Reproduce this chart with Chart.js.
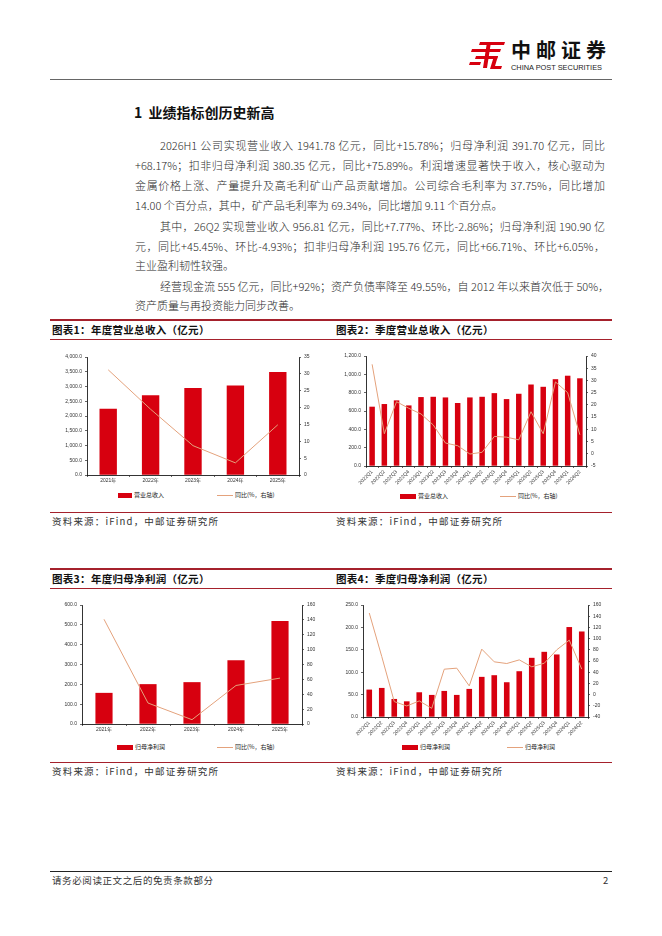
<!DOCTYPE html>
<html><head><meta charset="utf-8">
<script src="https://cdn.jsdelivr.net/npm/chart.js@4.4.1/dist/chart.umd.min.js"></script>
<style>
html,body{margin:0;padding:0;background:#fff;}
body{width:662px;height:936px;position:relative;overflow:hidden;font-family:"Noto Sans CJK SC","Liberation Sans",sans-serif;color:#222;}
.abs{position:absolute;}
.ln{position:absolute;white-space:nowrap;font-size:11px;line-height:16px;height:16px;color:#2a2a2a;font-weight:300;}
.jl{text-align:justify;text-align-last:justify;}
.hr{position:absolute;left:50px;width:562px;}
.ttl{position:absolute;font-size:10.5px;font-weight:bold;line-height:14px;color:#111;letter-spacing:0.3px;}
.src{position:absolute;font-size:9.5px;line-height:12px;color:#333;letter-spacing:1.2px;}
.leg{position:absolute;font-size:6px;line-height:8px;color:#222;white-space:nowrap;}
.sw{display:inline-block;vertical-align:middle;margin-right:2px;}
canvas{position:absolute;}
</style></head>
<body>
<!-- header logo -->
<svg class="abs" style="left:468px;top:40px" width="40" height="30" viewBox="0 0 40 30">
  <polygon points="12,2 37,2 36,5 11,5" fill="#d7000f"/>
  <polygon points="4,9 33,9 32,12 3,12" fill="#d7000f"/>
  <polygon points="8,16 30,16 29,19 7,19" fill="#d7000f"/>
  <polygon points="19,2 23,2 19,28 15,28" fill="#d7000f"/>
  <polygon points="26,16 30,16 27,26 34,26 33,29 22,29" fill="#d7000f"/>
  <polygon points="2,22 13,22 12,25 1,25" fill="#d7000f"/>
</svg>
<div class="abs" style="left:511px;top:38px;font-size:20px;font-weight:bold;letter-spacing:5px;line-height:24px;color:#111;">中邮证券</div>
<div class="abs" style="left:511px;top:63px;font-size:7.4px;line-height:9px;color:#222;font-family:'Liberation Sans',sans-serif;">CHINA POST SECURITIES</div>
<div class="hr" style="top:79px;height:1px;background:#666;"></div>

<!-- heading -->
<div class="abs" style="left:134px;top:102px;font-size:14px;font-weight:bold;line-height:20px;color:#111;">1&nbsp;&nbsp;业绩指标创历史新高</div>

<!-- body text -->
<div class="ln jl" style="left:160px;top:137px;width:445px;">2026H1 公司实现营业收入 1941.78 亿元，同比+15.78%；归母净利润 391.70 亿元，同比</div>
<div class="ln jl" style="left:135px;top:157px;width:470px;">+68.17%；扣非归母净利润 380.35 亿元，同比+75.89%。利润增速显著快于收入，核心驱动为</div>
<div class="ln jl" style="left:135px;top:177px;width:470px;">金属价格上涨、产量提升及高毛利矿山产品贡献增加。公司综合毛利率为 37.75%，同比增加</div>
<div class="ln" style="left:135px;top:197px;">14.00 个百分点，其中，矿产品毛利率为 69.34%，同比增加 9.11 个百分点。</div>
<div class="ln jl" style="left:160px;top:218px;width:445px;">其中，26Q2 实现营业收入 956.81 亿元，同比+7.77%、环比-2.86%；归母净利润 190.90 亿</div>
<div class="ln jl" style="left:135px;top:238px;width:470px;">元，同比+45.45%、环比-4.93%；扣非归母净利润 195.76 亿元，同比+66.71%、环比+6.05%，</div>
<div class="ln" style="left:135px;top:257px;">主业盈利韧性较强。</div>
<div class="ln jl" style="left:160px;top:278px;width:445px;">经营现金流 555 亿元，同比+92%；资产负债率降至 49.55%，自 2012 年以来首次低于 50%，</div>
<div class="ln" style="left:135px;top:297px;">资产质量与再投资能力同步改善。</div>

<!-- row 1 titles -->
<div class="hr" style="top:319px;height:2px;background:#a5212c;"></div>
<div class="ttl" style="left:52px;top:323px;">图表1：年度营业总收入（亿元）</div>
<div class="ttl" style="left:336px;top:323px;">图表2：季度营业总收入（亿元）</div>
<div class="hr" style="top:339px;height:1px;background:#a5212c;"></div>

<canvas id="c1" width="280" height="145" style="left:50px;top:345px;"></canvas>
<canvas id="c2" width="282" height="140" style="left:330px;top:345px;"></canvas>

<div class="leg" style="left:118px;top:491px;"><span class="sw" style="width:14px;height:5px;background:#d7000f;"></span>营业总收入</div>
<div class="leg" style="left:217px;top:491px;"><span class="sw" style="width:16px;height:1px;background:#e4a27c;"></span>同比(%，右轴)</div>
<div class="leg" style="left:400px;top:492px;"><span class="sw" style="width:16px;height:5px;background:#d7000f;"></span>营业总收入</div>
<div class="leg" style="left:500px;top:492px;"><span class="sw" style="width:16px;height:1px;background:#e4a27c;"></span>同比(%，右轴)</div>

<div class="hr" style="top:512px;height:1px;background:#a5212c;"></div>
<div class="src" style="left:52px;top:515px;">资料来源：iFind，中邮证券研究所</div>
<div class="src" style="left:336px;top:515px;">资料来源：iFind，中邮证券研究所</div>

<!-- row 2 titles -->
<div class="hr" style="top:568px;height:2px;background:#a5212c;"></div>
<div class="ttl" style="left:52px;top:572px;">图表3：年度归母净利润（亿元）</div>
<div class="ttl" style="left:336px;top:572px;">图表4：季度归母净利润（亿元）</div>
<div class="hr" style="top:588px;height:1px;background:#a5212c;"></div>

<canvas id="c3" width="280" height="140" style="left:50px;top:598px;"></canvas>
<canvas id="c4" width="282" height="142" style="left:330px;top:598px;"></canvas>

<div class="leg" style="left:117px;top:743px;"><span class="sw" style="width:16px;height:5px;background:#d7000f;"></span>归母净利润</div>
<div class="leg" style="left:217px;top:743px;"><span class="sw" style="width:16px;height:1px;background:#e4a27c;"></span>同比(%，右轴)</div>
<div class="leg" style="left:402px;top:743px;"><span class="sw" style="width:16px;height:5px;background:#d7000f;"></span>归母净利润</div>
<div class="leg" style="left:507px;top:743px;"><span class="sw" style="width:16px;height:1px;background:#e4a27c;"></span>归母净利润</div>

<div class="hr" style="top:762px;height:1px;background:#a5212c;"></div>
<div class="src" style="left:52px;top:765px;">资料来源：iFind，中邮证券研究所</div>
<div class="src" style="left:336px;top:765px;">资料来源：iFind，中邮证券研究所</div>

<!-- footer -->
<div class="hr" style="top:871px;height:1px;background:#222;"></div>
<div class="src" style="left:52px;top:874px;letter-spacing:0.6px;">请务必阅读正文之后的免责条款部分</div>
<div class="src" style="left:603px;top:874px;">2</div>

<script>
// ---------- data ----------
const yearLabels = ['2021年','2022年','2023年','2024年','2025年'];
const quarterLabels = ['2022Q1','2022Q2','2022Q3','2022Q4','2023Q1','2023Q2','2023Q3','2023Q4',
  '2024Q1','2024Q2','2024Q3','2024Q4','2025Q1','2025Q2','2025Q3','2025Q4','2026Q1','2026Q2'];

const annualRevenue = [2250, 2700, 2945, 3030, 3490];
const annualRevenueYoY = [31.2, 19.5, 8.7, 3.6, 14.9];

const quarterRevenue = [647, 676, 716, 661, 752, 755, 748, 687, 748, 755, 795, 730, 788, 889, 864, 947, 985, 956.81];
const quarterRevenueYoY = [36.6, 8.2, 21.3, 18.6, 16.3, 11.8, 4.4, 3.3, -0.1, 0.6, 7.1, 6.8, 5.7, 17.2, 8.2, 29.4, 25.0, 7.77];

const annualProfit = [157, 201, 211, 321, 519];
const annualProfitYoY = [140.8, 28.2, 5.8, 51.8, 61.7];

const quarterProfit = [61.2, 64.9, 40.3, 35.0, 55.2, 49.3, 58.2, 49.3, 62.7, 89.6, 93.3, 77.6, 102.2, 132.1, 145.5, 139.6, 200.8, 190.9];
const quarterProfitYoY = [145.7, 68.0, -12.5, -20.3, -11.3, -24.5, 45.4, 47.2, 15.5, 81.2, 58.5, 55.5, 62.0, 49.6, 56.0, 80.0, 97.3, 45.45];

// ---------- style ----------
const RED = '#d7000f';
const LINE = '#e4a27c';
const FONT = {family:"'Liberation Sans','Noto Sans CJK SC',sans-serif", size:5};

const fmtLeft = v => Number(v).toLocaleString('en-US',{minimumFractionDigits:1, maximumFractionDigits:1});
const fmtRight = v => String(v);

function build(id, labels, bars, line, cfg){
  new Chart(document.getElementById(id), {
    data:{labels, datasets:[
      {type:'line', label:'yoy', data:line, yAxisID:'y1', borderColor:LINE, borderWidth:1, pointRadius:0, tension:0, order:0},
      {type:'bar', label:'bar', data:bars, yAxisID:'y', backgroundColor:RED, barPercentage:cfg.bp, categoryPercentage:1, order:1}
    ]},
    options:{
      responsive:false, animation:false,
      layout:{padding:{top:cfg.pt, left:0, right:0, bottom:0}},
      plugins:{legend:{display:false}, tooltip:{enabled:false}},
      scales:{
        x:{offset:true,
           grid:{display:true, drawOnChartArea:false, offset:true, tickLength:2, color:'#000', lineWidth:0.6},
           border:{display:true, color:'#000', width:0.8},
           ticks:{font:FONT, color:'#333', maxRotation:cfg.rot, minRotation:cfg.rot, autoSkip:false, padding:1},
           afterFit:s=>{s.height=cfg.xh; s.paddingLeft=0; s.paddingRight=0;}},
        y:{position:'left', min:cfg.lmin, max:cfg.lmax,
           ticks:{stepSize:cfg.lstep, callback:fmtLeft, font:FONT, color:'#333', padding:3},
           grid:{display:true, drawOnChartArea:false, tickLength:2, color:'#000', lineWidth:0.6},
           border:{display:true, color:'#000', width:0.8},
           afterFit:s=>{s.width=cfg.lw; s.paddingTop=0; s.paddingBottom=0;}},
        y1:{position:'right', min:cfg.rmin, max:cfg.rmax,
           ticks:{stepSize:cfg.rstep, callback:fmtRight, font:FONT, color:'#333', padding:3},
           grid:{display:true, drawOnChartArea:false, tickLength:2, color:'#000', lineWidth:0.6},
           border:{display:true, color:'#000', width:0.8},
           afterFit:s=>{s.width=cfg.rw; s.paddingTop=0; s.paddingBottom=0;}}
      }
    }
  });
}

build('c1', yearLabels, annualRevenue, annualRevenueYoY,
  {bp:0.41, pt:12, xh:15, rot:0, lw:37, rw:31, lmin:0, lmax:4000, lstep:500, rmin:0, rmax:35, rstep:5});
build('c2', quarterLabels, quarterRevenue, quarterRevenueYoY,
  {bp:0.45, pt:11, xh:19, rot:45, lw:36, rw:26, lmin:0, lmax:1200, lstep:200, rmin:-5, rmax:40, rstep:5});
build('c3', yearLabels, annualProfit, annualProfitYoY,
  {bp:0.39, pt:7, xh:14, rot:0, lw:32, rw:28, lmin:0, lmax:600, lstep:100, rmin:0, rmax:160, rstep:20});
build('c4', quarterLabels, quarterProfit, quarterProfitYoY,
  {bp:0.45, pt:7, xh:23, rot:45, lw:33, rw:24, lmin:0, lmax:250, lstep:50, rmin:-40, rmax:160, rstep:20});
</script>
</body></html>
